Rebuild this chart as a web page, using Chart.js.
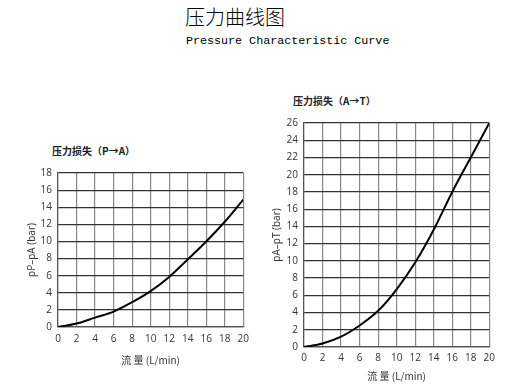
<!DOCTYPE html>
<html>
<head>
<meta charset="utf-8">
<script src="https://cdn.jsdelivr.net/npm/chart.js@4"></script>
<style>
  body { margin: 0; width: 522px; height: 386px; background: #fff; position: relative; overflow: hidden; }
  .t { position: absolute; white-space: nowrap; color: #000; }
  #main { left: 185px; top: 2px; font-family: "Noto Sans CJK SC", serif; font-size: 20px; font-weight: 300; }
  #sub { left: 186px; top: 34px; font-family: "Liberation Mono", "DejaVu Sans Mono", monospace; font-size: 11.7px; }
  .ct { font-family: "Noto Sans CJK SC", sans-serif; font-size: 10px; font-weight: bold; color: #222; }
  #t1 { left: 52px; top: 143px; }
  #t2 { left: 293px; top: 93px; }
  canvas { position: absolute; }
  #c1 { left: 26px; top: 160px; }
  #c2 { left: 271px; top: 110px; }
</style>
</head>
<body>
<div class="t" id="main">压力曲线图</div>
<div class="t" id="sub">Pressure Characteristic Curve</div>
<div class="t ct" id="t1">压力损失（P→A）</div>
<div class="t ct" id="t2">压力损失（A→T）</div>
<canvas id="c1" width="229" height="210"></canvas>
<canvas id="c2" width="229" height="276"></canvas>
<script>
const flow = [0, 2, 4, 6, 8, 10, 12, 14, 16, 18, 20];
const lossPA = [0, 0.4, 1.1, 1.8, 2.9, 4.2, 5.85, 7.9, 10, 12.3, 14.9];
const lossAT = [0, 0.4, 1.2, 2.5, 4.2, 6.7, 9.8, 13.6, 18, 22, 26];

const tickFont = { family: 'Open Sans, sans-serif', size: 10 };

function makeChart(id, values, yMax, yLabel, yWidth, xHeight, xPad) {
    const ctx = document.getElementById(id).getContext('2d');
    return new Chart(ctx, {
        type: 'line',
        data: {
            datasets: [{
                data: flow.map((x, i) => ({ x: x, y: values[i] })),
                borderColor: '#000',
                borderWidth: 2,
                pointRadius: 0,
                cubicInterpolationMode: 'monotone',
                fill: false
            }]
        },
        options: {
            responsive: false,
            animation: false,
            layout: { padding: { top: 13, right: 10 } },
            plugins: { legend: { display: false }, tooltip: { enabled: false } },
            scales: {
                x: {
                    type: 'linear',
                    min: 0,
                    max: 20,
                    ticks: { stepSize: 2, color: '#333', font: tickFont, maxRotation: 0, padding: xPad },
                    grid: { color: '#888', lineWidth: 1.2, drawTicks: false },
                    border: { color: '#555', width: 1.2 },
                    title: { display: true, text: '流 量 (L/min)', color: '#333', font: { family: 'Noto Sans CJK SC, sans-serif', size: 10 }, padding: { top: 3 } },
                    afterFit: s => { s.height = xHeight; }
                },
                y: {
                    min: 0,
                    max: yMax,
                    ticks: { stepSize: 2, color: '#333', font: tickFont, padding: 6 },
                    grid: { color: '#333', lineWidth: 1.2, drawTicks: false },
                    border: { color: '#555', width: 1.2 },
                    title: { display: true, text: yLabel, color: '#333', font: { family: 'Open Sans, sans-serif', size: 10 }, padding: 0 },
                    afterFit: s => { s.width = yWidth; }
                }
            }
        }
    });
}

makeChart('c1', lossPA, 18, 'pP–pA (bar)', 32, 43, 6);
makeChart('c2', lossAT, 26, 'pA–pT (bar)', 33, 39, 5);
</script>
</body>
</html>
